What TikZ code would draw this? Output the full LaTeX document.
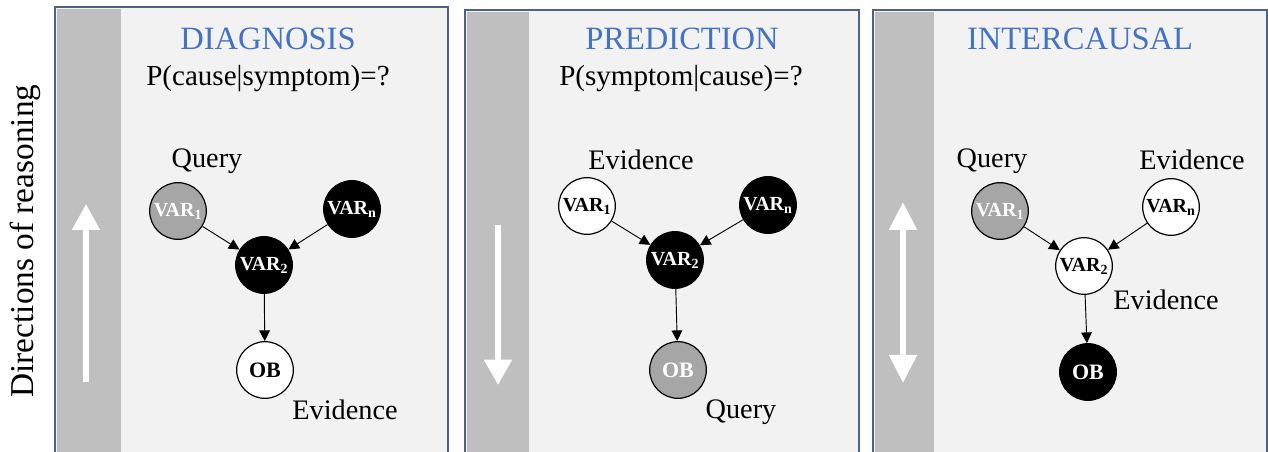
\documentclass[tikz,border=0pt]{standalone}
\usepackage{fontspec}
\setmainfont{Liberation Serif}
\usetikzlibrary{arrows.meta}
\definecolor{PnlD}{HTML}{4F6282}
\definecolor{PnlF}{HTML}{F2F2F2}
\definecolor{StrF}{HTML}{BFBFBF}
\definecolor{TtlC}{HTML}{4472C4}
\definecolor{QryF}{HTML}{A6A6A6}
\tikzset{
  PNL/.style={
    draw=PnlD, fill=PnlF, line width=1.5pt
  },
  STR/.style={fill=StrF, draw=none},
  VAR/.style args={#1/#2}{
    circle, draw=black, fill=#1, text=#2,
    line width=0.9pt, minimum size=42.5pt, inner sep=0pt,
    font=\fontsize{15}{15}\selectfont\bfseries
  },
  OBS/.style={font=\fontsize{16.5}{17}\selectfont\bfseries},
  TTL/.style={anchor=base, text=TtlC, font=\fontsize{24.4}{25}\selectfont},
  EQN/.style={anchor=base, font=\fontsize{21.8}{22}\selectfont},
  LBL/.style={anchor=base, font=\fontsize{21.2}{22}\selectfont},
  ARR/.style={
    -{Triangle[length=8pt,width=8pt]},
    line width=0.7pt, color=black
  },
  DIR/.style={
    draw=white, line width=4.5pt, #1
  },
}

\begin{document}
\begin{tikzpicture}[x=0.75pt,y=-0.75pt]
\useasboundingbox (0,0) rectangle (1268,452);
\clip (0,0) rectangle (1268,452);

%================ SIDE LABEL =================
\node[anchor=base,rotate=90,font=\fontsize{25}{25}\selectfont]
(dirs) at (33.5,241) {Directions of reasoning};

%================ PANELS =================
\draw[PNL] (55,7)   rectangle (448,470);
\draw[PNL] (465,10) rectangle (859,470);
\draw[PNL] (873,10) rectangle (1267,470);

\fill[STR] (57,9)   rectangle (121,452);
\fill[STR] (467,12) rectangle (529,452);
\fill[STR] (875,12) rectangle (934,452);

%================ DIAGNOSIS =================
\node[TTL] (dttl) at (268,50) {DIAGNOSIS};
\node[EQN] (deqn) at (268,86) {P(cause|symptom)=?};

\node[VAR=QryF/white] (dv1) at (178,211) {VAR\textsubscript{1}};
\node[VAR=black/white] (dvn) at (352,209) {VAR\textsubscript{n}};
\node[VAR=black/white] (dv2) at (264,265) {VAR\textsubscript{2}};
\node[VAR=white/black,OBS] (dob) at (265,370) {OB};

\node[LBL] (dqry) at (207,168) {Query};
\node[LBL] (devd) at (345,420) {Evidence};

\draw[ARR] (dv1)--(dv2);
\draw[ARR] (dvn)--(dv2);
\draw[ARR] (dv2)--(dob);

\coordinate (dups) at (86,382);
\coordinate (dupe) at (86,204);
\draw[DIR={-{Triangle[length=19.5pt,width=20pt]}}] (dups)--(dupe);

%================ PREDICTION =================
\node[TTL] (pttl) at (682,50) {PREDICTION};
\node[EQN] (peqn) at (681,86) {P(symptom|cause)=?};

\node[VAR=white/black] (pv1) at (587,206) {VAR\textsubscript{1}};
\node[VAR=black/white] (pvn) at (768,205) {VAR\textsubscript{n}};
\node[VAR=black/white] (pv2) at (675,260) {VAR\textsubscript{2}};
\node[VAR=QryF/white,OBS] (pob) at (678,370) {OB};

\node[LBL] (pevd) at (641,170) {Evidence};
\node[LBL] (pqry) at (741,418) {Query};

\draw[ARR] (pv1)--(pv2);
\draw[ARR] (pvn)--(pv2);
\draw[ARR] (pv2)--(pob);

\coordinate (pdns) at (498,225);
\coordinate (pdne) at (498,385);
\draw[DIR={-{Triangle[length=19pt,width=20pt]}}] (pdns)--(pdne);

%================ INTERCAUSAL =================
\node[TTL] (ittl) at (1080,50) {INTERCAUSAL};

\node[VAR=QryF/white] (iv1) at (1000,211) {VAR\textsubscript{1}};
\node[VAR=white/black] (ivn) at (1171,207) {VAR\textsubscript{n}};
\node[VAR=white/black] (iv2) at (1084,266) {VAR\textsubscript{2}};
\node[VAR=black/white,OBS] (iob) at (1088,372) {OB};

\node[LBL] (iqry) at (992,168) {Query};
\node[LBL] (ievd) at (1192,170) {Evidence};
\node[LBL] (iev2) at (1166,310) {Evidence};

\draw[ARR] (iv1)--(iv2);
\draw[ARR] (ivn)--(iv2);
\draw[ARR] (iv2)--(iob);

\coordinate (ibts) at (903,383);
\coordinate (ibte) at (903,202);
\draw[DIR={{Triangle[length=21pt,width=20pt]}-{Triangle[length=21pt,width=20pt]}}]
(ibts)--(ibte);

\end{tikzpicture}
\end{document}
